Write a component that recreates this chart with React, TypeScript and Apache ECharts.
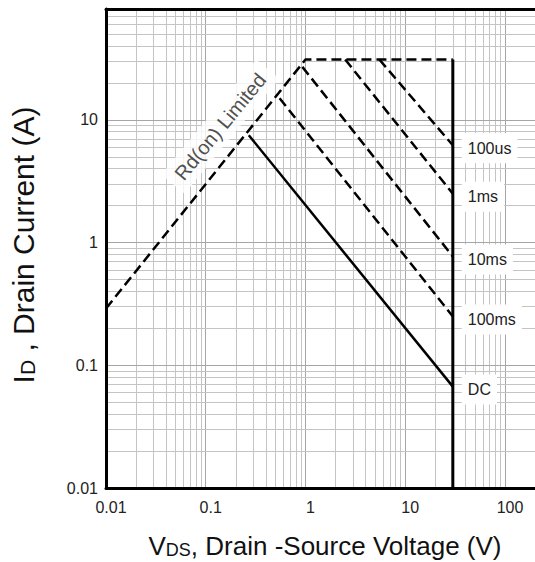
import React, { useEffect, useRef } from "react";
import * as echarts from "echarts";

// Axis ranges and tick labels
const X_MIN = 0.01;
const X_MAX = 200;
const Y_MIN = 0.01;
const Y_MAX = 80;
const xTickValues = [0.01, 0.1, 1, 10, 100];
const xTickLabels = ["0.01", "0.1", "1", "10", "100"];
const yTickValues = [0.01, 0.1, 1, 10];
const yTickLabels = ["0.01", "0.1", "1", "10"];
const gridMultiples = [1, 2, 3, 4, 5, 6, 7, 8, 9];

// Safe operating area curves [VDS (V), ID (A)]
const rdLimit = [[0.01, 0.29], [1, 31], [30, 31]];
const vdsMax = [[30, 31], [30, 0.01]];
const pulse100us = [[5.5, 31], [30, 6.2]];
const pulse1ms = [[2.5, 31], [30, 2.5]];
const pulse10ms = [[0.93, 27], [30, 0.77]];
const pulse100ms = [[0.55, 15], [30, 0.25]];
const dcLine = [[0.27, 7.5], [30, 0.067]];
const curveNames = ["100us", "1ms", "10ms", "100ms", "DC"];
const rdLabelPos = [0.14, 8.8];
const rdLabelText = "Rd(on) Limited";

const FONT = "'Liberation Sans', Arial, sans-serif";

function tickFormatter(values: number[], labels: string[]) {
  return (val: number) => {
    const i = values.findIndex((t) => Math.abs(Math.log10(t) - Math.log10(val)) < 1e-6);
    return i >= 0 ? labels[i] : "";
  };
}

export default function App() {
  const ref = useRef<HTMLDivElement>(null);

  useEffect(() => {
    if (!ref.current) return;
    const chart = echarts.init(ref.current, undefined, { renderer: "svg" });

    const gridLines: any[] = [];
    xTickValues.forEach((d) =>
      gridMultiples.forEach((m) => {
        const v = +(d * m).toPrecision(6);
        if (v > X_MIN && v < X_MAX)
          gridLines.push({
            xAxis: v,
            lineStyle: { color: m === 1 ? "#a6a6a6" : "#c4c4c4", width: 1, type: "solid" },
          });
      })
    );
    yTickValues.forEach((d) =>
      gridMultiples.forEach((m) => {
        const v = +(d * m).toPrecision(6);
        if (v > Y_MIN && v < Y_MAX)
          gridLines.push({
            yAxis: v,
            lineStyle: { color: m === 1 ? "#a6a6a6" : "#c4c4c4", width: 1, type: "solid" },
          });
      })
    );

    const labelStyle = {
      show: true,
      distance: 9,
      offset: [0, 3],
      color: "#222",
      fontSize: 16,
      fontFamily: FONT,
      backgroundColor: "#fff",
      padding: [7, 6],
    };

    const dashed = { color: "#000", width: 2.5, type: [10, 5] as any };
    const solid = { color: "#000", width: 2.5, type: "solid" as any };

    const pulseSeries = [pulse100us, pulse1ms, pulse10ms, pulse100ms, dcLine].map((d, i) => ({
      type: "line",
      name: curveNames[i],
      data: d,
      symbol: "none",
      silent: true,
      z: 4,
      lineStyle: curveNames[i] === "DC" ? solid : dashed,
      endLabel: { ...labelStyle, formatter: curveNames[i] },
    }));

    const richTitle = {
      a: { fontSize: 26, fontFamily: FONT, lineHeight: 28, verticalAlign: "bottom", fill: "#111" },
      b: { fontSize: 18, fontFamily: FONT, lineHeight: 22, verticalAlign: "bottom", fill: "#111" },
    };
    const richTitleY = {
      a: { fontSize: 30, fontFamily: FONT, lineHeight: 32, verticalAlign: "bottom", fill: "#111" },
      b: { fontSize: 21, fontFamily: FONT, lineHeight: 25, verticalAlign: "bottom", fill: "#111" },
    };

    chart.setOption({
      animation: false,
      grid: { left: 106, top: 9, right: 0, bottom: 74, containLabel: false },
      xAxis: [
        {
          type: "log",
          logBase: 10,
          min: X_MIN,
          max: X_MAX,
          position: "bottom",
          z: 6,
          axisLine: { show: true, lineStyle: { color: "#000", width: 3 } },
          axisTick: { show: false },
          splitLine: { show: false },
          axisLabel: {
            margin: 11,
            fontSize: 16,
            fontFamily: FONT,
            color: "#222",
            padding: [0, 0, 0, 10],
            showMaxLabel: false,
            formatter: tickFormatter(xTickValues, xTickLabels),
          },
        },
        {
          type: "log",
          logBase: 10,
          min: X_MIN,
          max: X_MAX,
          position: "top",
          z: 6,
          axisLine: { show: true, lineStyle: { color: "#000", width: 3 } },
          axisTick: { show: false },
          splitLine: { show: false },
          axisLabel: { show: false },
        },
      ],
      yAxis: {
        type: "log",
        logBase: 10,
        min: Y_MIN,
        max: Y_MAX,
        z: 6,
        axisLine: { show: true, lineStyle: { color: "#000", width: 3 } },
        axisTick: { show: false },
        splitLine: { show: false },
        axisLabel: {
          margin: 8,
          fontSize: 16,
          fontFamily: FONT,
          color: "#222",
          padding: [0, 0, 10, 0],
          showMaxLabel: false,
          formatter: tickFormatter(yTickValues, yTickLabels),
        },
      },
      graphic: [
        {
          type: "text",
          x: 325,
          y: 545,
          style: {
            text: "{a|V}{b|DS}{a|, Drain -Source Voltage (V)}",
            align: "center",
            verticalAlign: "middle",
            fill: "#111",
            rich: richTitle,
          },
        },
        {
          type: "text",
          x: 22,
          y: 245,
          rotation: Math.PI / 2,
          style: {
            text: "{a|I}{b|D}{a| , Drain Current (A)}",
            align: "center",
            verticalAlign: "middle",
            fill: "#111",
            rich: richTitleY,
          },
        },
      ],
      series: [
        {
          type: "line",
          data: [],
          silent: true,
          z: 1,
          markLine: {
            silent: true,
            z: 1,
            symbol: ["none", "none"],
            label: { show: false },
            animation: false,
            data: gridLines,
          },
        },
        {
          type: "line",
          name: "Rd(on)",
          data: rdLimit,
          symbol: "none",
          silent: true,
          z: 4,
          lineStyle: dashed,
        },
        {
          type: "line",
          name: "VDS max",
          data: vdsMax,
          symbol: "none",
          silent: true,
          z: 4,
          lineStyle: { color: "#000", width: 3, type: "solid" },
        },
        ...pulseSeries,
        {
          type: "scatter",
          data: [rdLabelPos],
          symbolSize: 1,
          silent: true,
          z: 5,
          itemStyle: { color: "rgba(0,0,0,0)" },
          label: {
            show: true,
            position: "inside",
            rotate: 50.5,
            formatter: rdLabelText,
            fontSize: 20,
            fontFamily: FONT,
            color: "#222",
            backgroundColor: "#fff",
            padding: [5, 9],
          },
        },
      ],
    });

    return () => chart.dispose();
  }, []);

  return <div ref={ref} style={{ width: 535, height: 562, position: "absolute", left: 0, top: 0 }} />;
}
